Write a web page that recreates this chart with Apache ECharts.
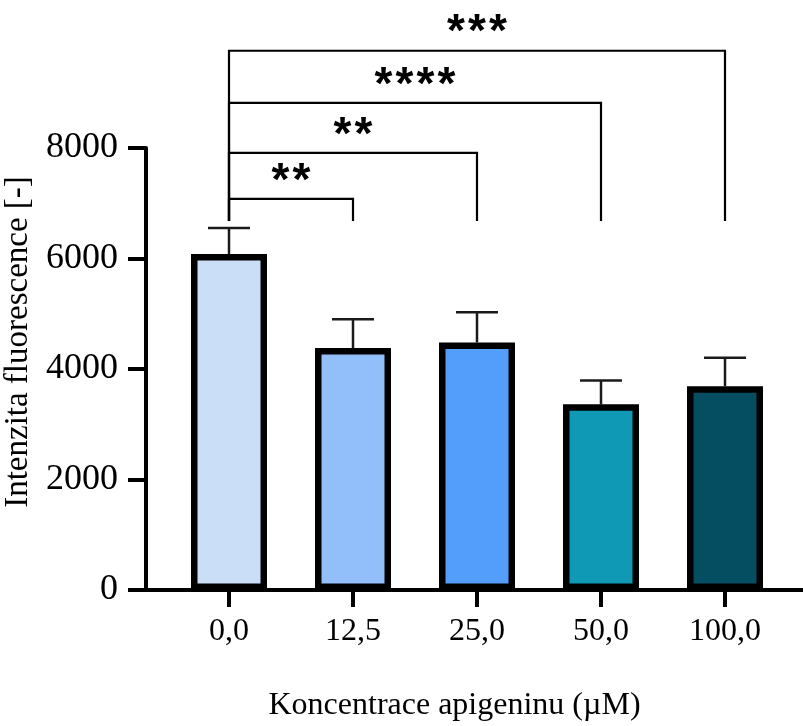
<!DOCTYPE html>
<html>
<head>
<meta charset="utf-8">
<script src="https://cdn.jsdelivr.net/npm/echarts@6/dist/echarts.min.js"></script>
<style>
  html, body { margin: 0; padding: 0; background: #fff; }
  #chart { width: 803px; height: 726px; }
</style>
</head>
<body>
<div id="chart"></div>
<script>
// Apigenin concentrations (µM) and mean fluorescence intensity with SD
const categories = ['0,0', '12,5', '25,0', '50,0', '100,0'];
const means = [6080, 4380, 4480, 3360, 3690];
const sds = [470, 520, 545, 430, 515];
const barColors = ['#CADFF7', '#92BFF9', '#529EFA', '#1099B5', '#054E62'];

// Significance brackets: each compares the control (index 0) with a treated group
const bracketTargets = [1, 2, 3, 4];
const bracketLevels = [7080, 7910, 8815, 9760];
const bracketLabels = ['**', '**', '****', '***'];
const bracketFoot = 6680;

const yTicks = { min: 0, max: 8000, interval: 2000 };

const serif = '"Liberation Serif", "Times New Roman", serif';

const chart = echarts.init(document.getElementById('chart'), null, { renderer: 'canvas' });

const option = {
  animation: false,
  backgroundColor: '#ffffff',
  grid: [
    { left: 167, right: 16, top: 148, bottom: 136, containLabel: false, outerBoundsMode: 'none' },
    { left: 145, right: 0, top: 148, bottom: 136, containLabel: false, outerBoundsMode: 'none' }
  ],
  xAxis: [
    {
      type: 'category',
      gridIndex: 0,
      data: categories,
      axisLine: { show: false },
      axisTick: { show: true, alignWithLabel: true, length: 17, lineStyle: { color: '#000', width: 4 } },
      axisLabel: { margin: 26, color: '#000', fontFamily: serif, fontSize: 32 },
      name: 'Koncentrace apigeninu (µM)',
      nameLocation: 'middle',
      nameGap: 100,
      nameTextStyle: { color: '#000', fontFamily: serif, fontSize: 32, padding: [0, 45, 0, 0] }
    },
    {
      type: 'value',
      gridIndex: 1,
      min: 0,
      max: 1,
      axisLine: { show: true, lineStyle: { color: '#000', width: 4 } },
      axisTick: { show: false },
      axisLabel: { show: false },
      splitLine: { show: false }
    }
  ],
  yAxis: [
    {
      type: 'value',
      gridIndex: 0,
      min: yTicks.min,
      max: yTicks.max,
      interval: yTicks.interval,
      offset: 21,
      axisLine: { show: true, lineStyle: { color: '#000', width: 4 } },
      axisTick: { show: true, length: 18, lineStyle: { color: '#000', width: 4 } },
      axisLabel: {
        margin: 28,
        color: '#000',
        fontFamily: serif,
        fontSize: 36,
        formatter: function (v) { return String(v); }
      },
      splitLine: { show: false },
      name: 'Intenzita fluorescence [-]',
      nameLocation: 'middle',
      nameRotate: 90,
      nameGap: 110,
      nameTextStyle: { color: '#000', fontFamily: serif, fontSize: 33, padding: [0, 0, 0, 54] }
    },
    {
      type: 'value',
      gridIndex: 1,
      show: false,
      min: 0,
      max: 1
    }
  ],
  series: [
    {
      // upward SD whiskers, drawn beneath the bars so the bar outline covers their foot
      type: 'custom',
      xAxisIndex: 0,
      yAxisIndex: 0,
      z: 1,
      clip: false,
      data: means.map((m, i) => [i, m, sds[i]]),
      renderItem: function (params, api) {
        const idx = api.value(0);
        const m = api.value(1);
        const s = api.value(2);
        const base = api.coord([idx, m]);
        const top = api.coord([idx, m + s]);
        const stroke = { stroke: '#1a1a1a', lineWidth: 2.5 };
        return {
          type: 'group',
          children: [
            { type: 'line', shape: { x1: base[0], y1: base[1], x2: top[0], y2: top[1] }, style: stroke },
            { type: 'line', shape: { x1: top[0] - 21, y1: top[1], x2: top[0] + 21, y2: top[1] }, style: stroke }
          ]
        };
      }
    },
    {
      type: 'bar',
      xAxisIndex: 0,
      yAxisIndex: 0,
      z: 2,
      barWidth: 76,
      data: means.map((m, i) => ({
        value: m,
        itemStyle: { color: barColors[i], borderColor: '#000', borderWidth: 6.5 }
      }))
    },
    {
      // significance brackets; stars are set one by one with even spacing
      type: 'custom',
      xAxisIndex: 0,
      yAxisIndex: 0,
      z: 3,
      clip: false,
      data: bracketTargets.map((t, i) => [t, bracketLevels[i]]),
      renderItem: function (params, api) {
        const target = api.value(0);
        const level = api.value(1);
        const a = api.coord([0, level]);
        const b = api.coord([target, level]);
        const footA = api.coord([0, bracketFoot]);
        const footB = api.coord([target, bracketFoot]);
        const stroke = { stroke: '#000', lineWidth: 2.2, fill: null };
        const children = [
          {
            type: 'polyline',
            shape: { points: [[footA[0], footA[1]], [a[0], a[1]], [b[0], b[1]], [footB[0], footB[1]]] },
            style: stroke
          }
        ];
        const stars = bracketLabels[params.dataIndex];
        const step = 21;
        const cx = (a[0] + b[0]) / 2;
        for (let k = 0; k < stars.length; k++) {
          children.push({
            type: 'text',
            x: cx + (k - (stars.length - 1) / 2) * step,
            y: a[1] - 17,
            style: {
              text: stars[k],
              fontFamily: '"Liberation Sans", Arial, sans-serif',
              fontWeight: 'bold',
              fontSize: 46,
              fill: '#000',
              align: 'center',
              verticalAlign: 'middle'
            }
          });
        }
        return { type: 'group', children: children };
      }
    }
  ]
};

chart.setOption(option);
</script>
</body>
</html>
